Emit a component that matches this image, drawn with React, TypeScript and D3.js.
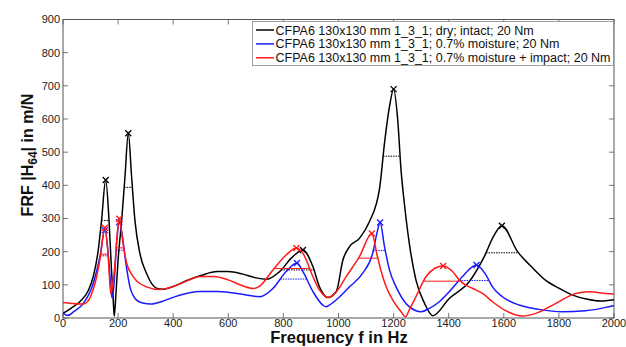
import React from "react";
import * as d3 from "d3";

type Pt = [number, number];

const dryIntact: Pt[] = [
  [0, 14], [30, 30], [62, 50], [90, 80], [110, 125], [128, 205], [140, 295], [155, 416],
  [167, 295], [176, 145], [182, 60], [186, 5], [192, 70], [200, 175], [213, 295], [225, 426],
  [237, 557], [249, 426], [261, 295], [279, 195], [303, 135], [339, 90], [363, 87], [400, 95],
  [450, 113], [500, 128], [560, 140], [600, 140], [650, 133], [700, 121], [740, 117], [786, 140],
  [834, 185], [871, 205], [907, 155], [931, 94], [961, 62], [992, 80], [1016, 175], [1040, 215],
  [1076, 240], [1112, 290], [1149, 390], [1167, 527], [1185, 637], [1200, 690], [1215, 597],
  [1227, 446], [1239, 346], [1257, 225], [1281, 115], [1312, 45], [1342, 7], [1402, 59],
  [1475, 110], [1529, 185], [1565, 250], [1593, 278], [1650, 200], [1700, 155], [1750, 115],
  [1800, 90], [1850, 69], [1900, 57], [1950, 51], [2000, 55],
];

const moisture: Pt[] = [
  [0, 14], [18, 8], [40, 20], [74, 44], [110, 105], [134, 185], [152, 265], [164, 195],
  [172, 110], [178, 60], [185, 100], [195, 230], [204, 289], [215, 250], [225, 185], [243, 94],
  [267, 54], [290, 45], [318, 42], [360, 50], [420, 68], [496, 80], [560, 80], [605, 77],
  [660, 70], [714, 64], [762, 89], [810, 140], [849, 166], [871, 140], [907, 80], [943, 39],
  [955, 34], [967, 39], [1004, 64], [1040, 94], [1088, 135], [1124, 195], [1142, 265],
  [1151, 288], [1167, 215], [1185, 145], [1209, 94], [1245, 44], [1281, 22], [1300, 19],
  [1330, 29], [1366, 49], [1402, 79], [1450, 125], [1487, 155], [1501, 160], [1535, 130],
  [1559, 94], [1595, 64], [1656, 39], [1728, 26], [1813, 19], [1897, 22], [1970, 32], [2000, 38],
];

const moistureImpact: Pt[] = [
  [0, 47], [30, 44], [62, 42], [80, 44], [100, 65], [118, 110], [134, 175], [152, 272],
  [164, 185], [170, 105], [174, 72], [180, 100], [188, 155], [197, 255], [204, 299], [218, 225],
  [231, 165], [255, 125], [303, 94], [351, 86], [400, 95], [450, 112], [496, 125], [550, 125],
  [599, 115], [650, 98], [690, 89], [714, 96], [762, 145], [810, 190], [847, 211], [871, 195],
  [907, 125], [931, 84], [955, 64], [965, 62], [992, 79], [1028, 125], [1076, 185], [1121, 255],
  [1140, 190], [1155, 140], [1173, 94], [1197, 54], [1227, 19], [1243, 4], [1260, 30],
  [1281, 64], [1318, 125], [1350, 150], [1380, 157], [1414, 140], [1438, 115], [1462, 99],
  [1487, 89], [1523, 74], [1559, 49], [1607, 22], [1668, 6], [1716, 14], [1789, 44],
  [1861, 74], [1909, 79], [1970, 74], [2000, 72],
];

const peaksDry = [155, 237, 871, 1200, 1593];
const peaksMoisture = [152, 204, 849, 1151, 1501];
const peaksImpact = [152, 204, 847, 1121, 1380];

const legendLabels = [
  "CFPA6 130x130 mm 1_3_1; dry; intact; 20 Nm",
  "CFPA6 130x130 mm 1_3_1; 0.7% moisture; 20 Nm",
  "CFPA6 130x130 mm 1_3_1; 0.7% moisture + impact; 20 Nm",
];
const seriesColors = ["#000000", "#1a1aff", "#ff1a1a"];

const xTicks = [0, 200, 400, 600, 800, 1000, 1200, 1400, 1600, 1800, 2000];
const yTicks = [0, 100, 200, 300, 400, 500, 600, 700, 800, 900];

const W = 626;
const H = 347;
const L = 63;
const R = 614;
const T = 19.5;
const B = 318;
const FONT = "'Liberation Sans', Arial, Helvetica, sans-serif";

function halfPower(data: Pt[], f: number) {
  const i = data.findIndex((d) => d[0] === f);
  const v = data[i][1];
  const lvl = v / Math.SQRT2;
  let f1 = data[0][0];
  for (let k = i; k > 0; k--) {
    if (data[k - 1][1] <= lvl) {
      const [a, av] = data[k - 1];
      const [b, bv] = data[k];
      f1 = a + ((lvl - av) / (bv - av)) * (b - a);
      break;
    }
  }
  let f2 = data[data.length - 1][0];
  for (let k = i; k < data.length - 1; k++) {
    if (data[k + 1][1] <= lvl) {
      const [a, av] = data[k];
      const [b, bv] = data[k + 1];
      f2 = a + ((av - lvl) / (av - bv)) * (b - a);
      break;
    }
  }
  return { f1, f2, lvl, v };
}

export default function App() {
  const x = d3.scaleLinear().domain([0, 2000]).range([L, R]);
  const y = d3.scaleLinear().domain([0, 900]).range([B, T]);
  const line = d3
    .line<Pt>()
    .x((d) => x(d[0]))
    .y((d) => y(d[1]))
    .curve(d3.curveMonotoneX);

  const series = [
    { data: dryIntact, peaks: peaksDry, color: seriesColors[0] },
    { data: moisture, peaks: peaksMoisture, color: seriesColors[1] },
    { data: moistureImpact, peaks: peaksImpact, color: seriesColors[2] },
  ];

  const tick = 5;
  const axisColor = "#555";

  return (
    <svg
      width={W}
      height={H}
      style={{ position: "absolute", left: 0, top: 0, background: "#fff" }}
      fontFamily={FONT}
    >
      <rect x={0} y={0} width={W} height={H} fill="#fff" />
      <defs>
        <clipPath id="plot">
          <rect x={L} y={T} width={R - L} height={B - T} />
        </clipPath>
      </defs>
      {xTicks.map((t) => (
        <g key={"xt" + t}>
          <line x1={x(t)} x2={x(t)} y1={B} y2={B - tick} stroke={axisColor} strokeWidth={0.8} />
          <line x1={x(t)} x2={x(t)} y1={T} y2={T + tick} stroke={axisColor} strokeWidth={0.8} />
          <text x={x(t)} y={326.5} fontSize={11} textAnchor="middle" fill="#222">
            {t}
          </text>
        </g>
      ))}
      {yTicks.map((t) => (
        <g key={"yt" + t}>
          <line x1={L} x2={L + tick} y1={y(t)} y2={y(t)} stroke={axisColor} strokeWidth={0.8} />
          <line x1={R} x2={R - tick} y1={y(t)} y2={y(t)} stroke={axisColor} strokeWidth={0.8} />
          <text x={60} y={y(t)} dy="0.35em" fontSize={11} textAnchor="end" fill="#222">
            {t}
          </text>
        </g>
      ))}
      <rect x={L} y={T} width={R - L} height={B - T} fill="none" stroke={axisColor} strokeWidth={1} />

      <g clipPath="url(#plot)">
        {series.map((s, si) => (
          <g key={"s" + si}>
            <path d={line(s.data) || ""} fill="none" stroke={s.color} strokeWidth={1.5} />
            {s.peaks.map((p) => {
              const hp = halfPower(s.data, p);
              const px = x(p);
              const py = y(hp.v);
              const m = 3;
              return (
                <g key={"p" + p}>
                  <line
                    x1={x(hp.f1)}
                    x2={x(hp.f2)}
                    y1={y(hp.lvl)}
                    y2={y(hp.lvl)}
                    stroke={s.color}
                    strokeWidth={1}
                    strokeDasharray={si === 2 ? undefined : "1.5,1"}
                  />
                  <path
                    d={`M${px - m},${py - m}L${px + m},${py + m}M${px - m},${py + m}L${px + m},${py - m}`}
                    stroke={s.color}
                    strokeWidth={1.3}
                  />
                </g>
              );
            })}
          </g>
        ))}
      </g>

      <rect x={252.5} y={21.5} width={361} height={44} fill="#fff" stroke="#888" strokeWidth={0.8} />
      {legendLabels.map((lab, i) => {
        const cy = 30 + i * 13.9;
        return (
          <g key={"lg" + i}>
            <line x1={256} x2={274} y1={cy} y2={cy} stroke={seriesColors[i]} strokeWidth={1.5} />
            <text x={275.5} y={cy} dy="0.36em" fontSize={12.5} fill="#111">
              {lab}
            </text>
          </g>
        );
      })}

      <text x={339} y={343.3} fontSize={16.5} fontWeight="bold" textAnchor="middle" fill="#111">
        Frequency f in Hz
      </text>
      <text
        transform="translate(33,155) rotate(-90)"
        fontSize={16}
        fontWeight="bold"
        textAnchor="middle"
        fill="#111"
      >
        <tspan>FRF |H</tspan>
        <tspan dy={4} fontSize={12}>64</tspan>
        <tspan dy={-4}>| in m/N</tspan>
      </text>
    </svg>
  );
}
